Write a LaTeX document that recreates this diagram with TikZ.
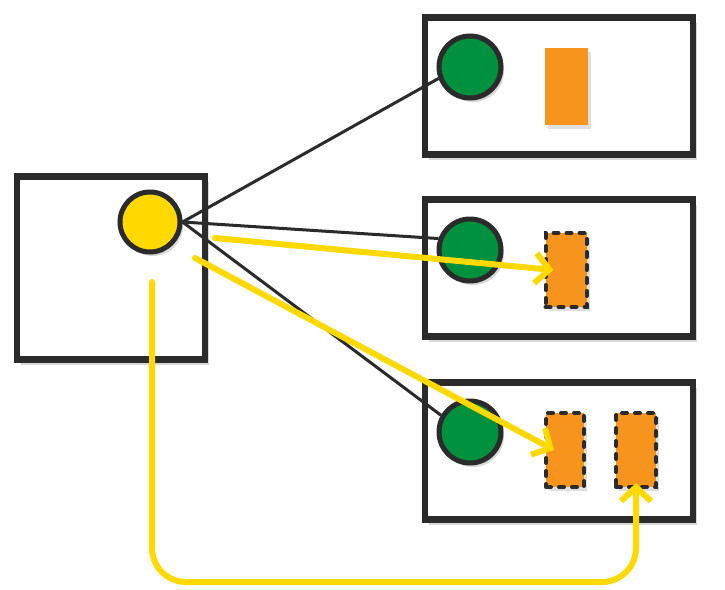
\documentclass[tikz,border=0pt]{standalone}
\usepackage{tikz}
\usetikzlibrary{shapes, arrows.meta, shadows}
\definecolor{ink}{HTML}{2B2B2B}
\definecolor{dotyellow}{HTML}{FFD900}
\definecolor{dotgreen}{HTML}{00913F}
\definecolor{blockorange}{HTML}{F7941D}
\tikzstyle{box} = [rectangle, draw = ink, line width = 6.5, fill = white,
  drop shadow = {shadow xshift = 4, shadow yshift = -5, opacity = 0.3}]
\tikzstyle{dot} = [
  circle, draw = ink, line width = 5,
  minimum size = 60, inner sep = 0,
  drop shadow = {shadow xshift = 3, shadow yshift = -4, opacity = 0.3}
]
\tikzstyle{block} = [rectangle, fill = blockorange, draw = ink, line width = 4,
  line cap = round, dash pattern = on 5 off 8,
  drop shadow = {shadow xshift = 3, shadow yshift = -4, opacity = 0.25}]
\tikzstyle{wire} = [draw = ink, line width = 3]
\tikzstyle{flow} = [draw = dotyellow, line width = 6, line cap = round,
  -{Straight Barb[length = 14, width = 30, line width = 6]}]

\begin{document}
\begin{tikzpicture}[node distance = 0, x = 1pt, y = 1pt]
    \useasboundingbox [fill = white] (0, 0) rectangle (725, -589);
    \node [box, minimum width = 188, minimum height = 183, xshift = 111, yshift = -268] (src) {};
    \node [box, minimum width = 268, minimum height = 137, xshift = 559, yshift = -86] (tgt-1) {};
    \node [box, minimum width = 268, minimum height = 137, xshift = 559, yshift = -268] (tgt-2) {};
    \node [box, minimum width = 268, minimum height = 137, xshift = 559, yshift = -451] (tgt-3) {};
    \node [block, draw = none, minimum width = 43, minimum height = 77, xshift = 566, yshift = -86] (blk-1) {};
    \node [block, minimum width = 41, minimum height = 74, xshift = 566, yshift = -270] (blk-2) {};
    \node [block, minimum width = 38, minimum height = 74, xshift = 565, yshift = -450] (blk-3) {};
    \node [block, minimum width = 40, minimum height = 74, xshift = 636, yshift = -450] (blk-4) {};
    \node [dot, fill = dotyellow, xshift = 150, yshift = -222] (src-dot) {};
    \node [dot, fill = dotgreen, minimum size = 62, xshift = 470, yshift = -67] (g-1) {};
    \node [dot, fill = dotgreen, minimum size = 62, xshift = 470, yshift = -250] (g-2) {};
    \node [dot, fill = dotgreen, minimum size = 62, xshift = 470, yshift = -432] (g-3) {};
    \draw [wire] (src-dot.east) -- (g-1.200);
    \draw [wire] (src-dot.east) -- (g-2.160);
    \draw [wire] (src-dot.east) -- (g-3.150);
    \coordinate (y-1) at (215, -238);
    \coordinate (y-2) at (195, -258);
    \coordinate (y-3) at (152, -282);
    \coordinate (tip-2) at ([xshift = 10] blk-2.west);
    \coordinate (tip-3) at ([xshift = 10] blk-3.west);
    \coordinate (tip-4) at ([yshift = 6] blk-4.south);
    \draw [flow] (y-1) -- (tip-2);
    \draw [flow] (y-2) -- (tip-3);
    \draw [flow, rounded corners = 34] (y-3) -- (152, -582) -- (tip-4 |- 0, -582) -- (tip-4);
  \end{tikzpicture}
\end{document}
